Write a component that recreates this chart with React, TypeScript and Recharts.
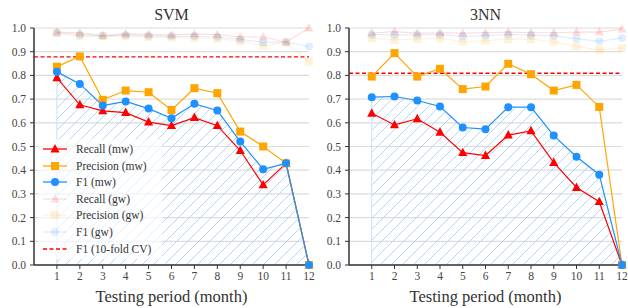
import {
  Area,
  CartesianGrid,
  ComposedChart,
  Line,
  ReferenceLine,
  XAxis,
  YAxis
} from "recharts";

const months = [1, 2, 3, 4, 5, 6, 7, 8, 9, 10, 11, 12];
const yTicks = [0, 0.1, 0.2, 0.3, 0.4, 0.5, 0.6, 0.7, 0.8, 0.9, 1.0];

// SVM
const svmRecallMw = [0.79, 0.676, 0.65, 0.643, 0.603, 0.588, 0.622, 0.588, 0.483, 0.338, 0.429, 0];
const svmPrecisionMw = [0.837, 0.88, 0.697, 0.736, 0.729, 0.654, 0.746, 0.725, 0.563, 0.5, 0.429, 0];
const svmF1Mw = [0.815, 0.764, 0.673, 0.69, 0.66, 0.619, 0.68, 0.652, 0.521, 0.404, 0.429, 0];
const svmRecallGw = [0.983, 0.98, 0.968, 0.975, 0.973, 0.97, 0.975, 0.972, 0.962, 0.962, 0.94, 1.0];
const svmPrecisionGw = [0.978, 0.965, 0.965, 0.965, 0.962, 0.96, 0.958, 0.955, 0.945, 0.925, 0.94, 0.858];
const svmF1Gw = [0.98, 0.972, 0.967, 0.97, 0.967, 0.965, 0.965, 0.962, 0.952, 0.94, 0.94, 0.922];
const svmCvF1 = 0.878;

// 3NN
const knnRecallMw = [0.64, 0.591, 0.617, 0.56, 0.474, 0.462, 0.548, 0.566, 0.432, 0.327, 0.267, 0];
const knnPrecisionMw = [0.795, 0.894, 0.795, 0.828, 0.742, 0.753, 0.849, 0.805, 0.736, 0.76, 0.667, 0];
const knnF1Mw = [0.708, 0.711, 0.694, 0.669, 0.58, 0.573, 0.666, 0.666, 0.546, 0.457, 0.381, 0];
const knnRecallGw = [0.978, 0.985, 0.978, 0.98, 0.978, 0.98, 0.983, 0.98, 0.98, 0.983, 0.983, 0.995];
const knnPrecisionGw = [0.957, 0.95, 0.953, 0.957, 0.942, 0.947, 0.953, 0.953, 0.942, 0.922, 0.908, 0.916];
const knnF1Gw = [0.973, 0.97, 0.972, 0.973, 0.965, 0.968, 0.973, 0.97, 0.967, 0.955, 0.944, 0.958];
const knnCvF1 = 0.809;

const RED = "#ff0000";
const ORANGE = "#ffa500";
const BLUE = "#1e90ff";
const FAINT = 0.14;
const FONT = '"Liberation Serif", "DejaVu Serif", serif';
const TEXT = "#333";

type Row = {
  month: number;
  recallMw: number;
  precisionMw: number;
  f1Mw: number;
  recallGw: number;
  precisionGw: number;
  f1Gw: number;
};

function buildRows(
  recallMw: number[],
  precisionMw: number[],
  f1Mw: number[],
  recallGw: number[],
  precisionGw: number[],
  f1Gw: number[]
): Row[] {
  return months.map((month, i) => ({
    month,
    recallMw: recallMw[i],
    precisionMw: precisionMw[i],
    f1Mw: f1Mw[i],
    recallGw: recallGw[i],
    precisionGw: precisionGw[i],
    f1Gw: f1Gw[i]
  }));
}

type Shape = "triangle" | "square" | "circle";

function marker(shape: Shape, cx: number, cy: number, color: string, opacity: number, key?: string) {
  if (shape === "triangle") {
    return (
      <path
        key={key}
        d={`M${cx},${cy - 5} L${cx + 4.6},${cy + 3.4} L${cx - 4.6},${cy + 3.4} Z`}
        fill={color}
        fillOpacity={opacity}
      />
    );
  }
  if (shape === "square") {
    return <rect key={key} x={cx - 4} y={cy - 4} width={8} height={8} fill={color} fillOpacity={opacity} />;
  }
  return <circle key={key} cx={cx} cy={cy} r={4} fill={color} fillOpacity={opacity} />;
}

function makeDot(shape: Shape, color: string, opacity: number) {
  return (props: any) => {
    const { cx, cy, index } = props;
    if (cx == null || cy == null) return <g key={`e-${index}`} />;
    return marker(shape, cx, cy, color, opacity, `${shape}-${index}`);
  };
}

interface PanelProps {
  id: string;
  title: string;
  rows: Row[];
  cv: number;
  left: number;
  width: number;
  marginRight: number;
  showLegend?: boolean;
}

const legendItems: { label: string; shape: Shape | "dash"; color: string; opacity: number }[] = [
  { label: "Recall (mw)", shape: "triangle", color: RED, opacity: 1 },
  { label: "Precision (mw)", shape: "square", color: ORANGE, opacity: 1 },
  { label: "F1 (mw)", shape: "circle", color: BLUE, opacity: 1 },
  { label: "Recall (gw)", shape: "triangle", color: RED, opacity: FAINT },
  { label: "Precision (gw)", shape: "square", color: ORANGE, opacity: FAINT },
  { label: "F1 (gw)", shape: "circle", color: BLUE, opacity: FAINT },
  { label: "F1 (10-fold CV)", shape: "dash", color: RED, opacity: 1 }
];

function Legend() {
  return (
    <div
      style={{
        position: "absolute",
        left: 38,
        top: 139,
        width: 124,
        height: 120,
        background: "rgba(255,255,255,0.65)"
      }}
    >
      {legendItems.map((item, i) => (
        <div
          key={item.label}
          style={{
            position: "absolute",
            left: 4,
            top: 2 + i * 16.6,
            height: 16,
            display: "flex",
            alignItems: "center"
          }}
        >
          <svg width={26} height={16}>
            {item.shape === "dash" ? (
              <line x1={1} y1={8} x2={25} y2={8} stroke={item.color} strokeWidth={1.3} strokeDasharray="4 2.5" />
            ) : (
              <>
                <line x1={1} y1={8} x2={25} y2={8} stroke={item.color} strokeOpacity={item.opacity} strokeWidth={1.3} />
                {marker(item.shape, 13, 8, item.color, item.opacity)}
              </>
            )}
          </svg>
          <span style={{ marginLeft: 8, fontFamily: FONT, fontSize: 11.5, color: TEXT, whiteSpace: "nowrap" }}>
            {item.label}
          </span>
        </div>
      ))}
    </div>
  );
}

function Panel({ id, title, rows, cv, left, width, marginRight, showLegend }: PanelProps) {
  const plotLeft = left + 34;
  const plotRight = left + width - marginRight;
  const center = (plotLeft + plotRight) / 2;
  const tickStyle = { fontSize: 11.5, fill: "#444", fontFamily: FONT };

  return (
    <>
      <div style={{ position: "absolute", left, top: 0 }}>
        <ComposedChart
          width={width}
          height={308}
          data={rows}
          margin={{ top: 28, right: marginRight, bottom: 0, left: 0 }}
        >
          <defs>
            <pattern id={`hatch-${id}`} patternUnits="userSpaceOnUse" width={11} height={11}>
              <path
                d="M0,11 L11,0 M-2,2 L2,-2 M9,13 L13,9"
                stroke="#a9d2ff"
                strokeWidth={0.9}
              />
            </pattern>
          </defs>
          <CartesianGrid vertical={false} stroke="#dcdcdc" strokeWidth={1.2} />
          <XAxis
            dataKey="month"
            type="number"
            domain={[0, 12]}
            ticks={months}
            interval={0}
            height={43}
            tickSize={4}
            tickMargin={3}
            tick={tickStyle}
            axisLine={{ stroke: "#333", strokeWidth: 1.5 }}
            tickLine={{ stroke: "#333" }}
          />
          <YAxis
            type="number"
            domain={[0, 1]}
            ticks={yTicks}
            interval={0}
            width={34}
            tickSize={4}
            tickMargin={4}
            tick={tickStyle}
            tickFormatter={(v: number) => v.toFixed(1)}
            axisLine={{ stroke: "#333", strokeWidth: 1.5 }}
            tickLine={{ stroke: "#333" }}
          />
          <Area
            type="linear"
            dataKey="f1Mw"
            baseValue={0}
            stroke="none"
            fill={`url(#hatch-${id})`}
            fillOpacity={1}
            isAnimationActive={false}
            activeDot={false}
          />
          <ReferenceLine
            segment={[
              { x: 1, y: 0 },
              { x: 1, y: rows[0].f1Mw }
            ]}
            stroke="#c4e0ff"
            strokeWidth={1}
          />
          <Line
            type="linear"
            dataKey="recallGw"
            stroke={RED}
            strokeOpacity={FAINT}
            strokeWidth={1.2}
            dot={makeDot("triangle", RED, FAINT)}
            activeDot={false}
            isAnimationActive={false}
          />
          <Line
            type="linear"
            dataKey="precisionGw"
            stroke={ORANGE}
            strokeOpacity={FAINT}
            strokeWidth={1.2}
            dot={makeDot("square", ORANGE, FAINT)}
            activeDot={false}
            isAnimationActive={false}
          />
          <Line
            type="linear"
            dataKey="f1Gw"
            stroke={BLUE}
            strokeOpacity={FAINT}
            strokeWidth={1.2}
            dot={makeDot("circle", BLUE, FAINT)}
            activeDot={false}
            isAnimationActive={false}
          />
          <ReferenceLine y={cv} stroke={RED} strokeWidth={1.3} strokeDasharray="4 2.5" />
          <Line
            type="linear"
            dataKey="recallMw"
            stroke={RED}
            strokeWidth={1.2}
            dot={makeDot("triangle", RED, 1)}
            activeDot={false}
            isAnimationActive={false}
          />
          <Line
            type="linear"
            dataKey="precisionMw"
            stroke={ORANGE}
            strokeWidth={1.2}
            dot={makeDot("square", ORANGE, 1)}
            activeDot={false}
            isAnimationActive={false}
          />
          <Line
            type="linear"
            dataKey="f1Mw"
            stroke={BLUE}
            strokeWidth={1.2}
            dot={makeDot("circle", BLUE, 1)}
            activeDot={false}
            isAnimationActive={false}
          />
        </ComposedChart>
      </div>
      <div
        style={{
          position: "absolute",
          left: center - 60,
          width: 120,
          top: 5,
          textAlign: "center",
          fontFamily: FONT,
          fontSize: 16,
          lineHeight: "20px",
          color: TEXT
        }}
      >
        {title}
      </div>
      <div
        style={{
          position: "absolute",
          left: center - 100,
          width: 200,
          top: 286,
          textAlign: "center",
          fontFamily: FONT,
          fontSize: 16.5,
          lineHeight: "21px",
          color: TEXT
        }}
      >
        Testing period (month)
      </div>
      {showLegend && <Legend />}
    </>
  );
}

export default function App() {
  const svmRows = buildRows(svmRecallMw, svmPrecisionMw, svmF1Mw, svmRecallGw, svmPrecisionGw, svmF1Gw);
  const knnRows = buildRows(knnRecallMw, knnPrecisionMw, knnF1Mw, knnRecallGw, knnPrecisionGw, knnF1Gw);

  return (
    <div style={{ position: "absolute", left: 0, top: 0, width: 628, height: 308, background: "#fff" }}>
      <Panel id="svm" title="SVM" rows={svmRows} cv={svmCvF1} left={0} width={320} marginRight={11} showLegend />
      <Panel id="knn" title="3NN" rows={knnRows} cv={knnCvF1} left={315} width={313} marginRight={6} />
    </div>
  );
}
